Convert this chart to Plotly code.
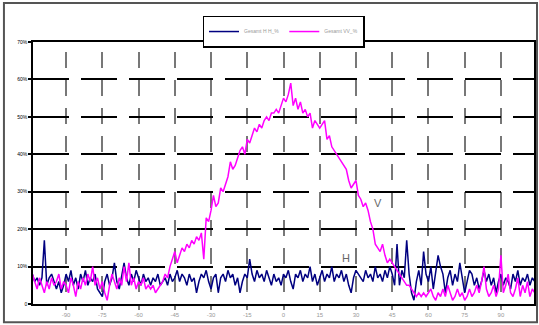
import plotly.graph_objects as go

angles = list(range(-104, 105))

gesamt_vv = [
    8, 6, 4, 7, 5, 3, 6, 4, 7, 5,
    6, 8, 4, 6, 5, 3, 7, 5, 2, 6,
    4, 7, 5, 8, 6, 10, 5, 7, 4, 6,
    3, 1, 5, 8, 6, 4, 7, 5, 10, 6,
    11, 5, 7, 4, 6, 5, 7, 4, 5, 4,
    5, 3, 4, 5, 6, 8, 7, 10, 12, 14,
    11, 13, 15, 14, 16, 15, 17, 16, 18, 17,
    19, 12, 23, 22, 25, 29, 26, 27, 31, 30,
    32, 34, 38, 36, 37, 39, 41, 42, 40, 44,
    43, 45, 47, 46, 48, 47, 49, 50, 49, 51,
    51, 52, 51, 53, 55, 54, 56, 59, 53, 55,
    52, 54, 51, 52, 50, 51, 47, 49, 48, 47,
    48, 49, 44, 45, 42, 41, 40, 39, 38, 37,
    36, 33, 31, 32, 33, 29, 28, 26, 27, 25,
    22, 20, 16, 15, 14, 16, 13, 11, 12, 11,
    10, 9, 8, 7, 6, 5, 5, 4, 3, 2,
    3, 2, 3, 2, 3, 4, 2, 1, 3, 2,
    4, 2, 5, 3, 1, 2, 4, 2, 3, 1,
    2, 4, 2, 3, 5, 3, 6, 10, 4, 2,
    3, 5, 2, 4, 13, 3, 5, 8, 3, 2,
    4, 7, 2, 5, 3, 6, 2, 4, 3,
]

gesamt_hh = [
    8, 6, 7, 5, 7, 17, 5, 7, 8, 6,
    4, 6, 3, 5, 8, 6, 9, 5, 7, 4,
    8, 6, 9, 5, 7, 6, 8, 4, 3, 2,
    6, 8, 5, 7, 11, 6, 4, 8, 11, 7,
    5, 8, 6, 9, 7, 5, 8, 6, 7, 5,
    7, 6, 8, 5, 6, 7, 5, 8, 6, 7,
    9, 6, 8, 7, 5, 8, 6, 7, 3, 6,
    8, 7, 9, 6, 4, 7, 8, 3, 7, 8,
    6, 9, 7, 8, 5, 7, 3, 6, 8, 7,
    12, 8, 6, 9, 7, 8, 6, 9, 7, 5,
    8, 6, 7, 5, 8, 7, 9, 6, 4, 8,
    7, 9, 6, 8, 7, 10, 6, 8, 5, 7,
    9, 6, 8, 7, 10, 6, 8, 7, 9, 6,
    8, 5, 3, 7, 9, 8, 7, 6, 9, 7,
    8, 6, 10, 7, 8, 6, 9, 7, 10, 8,
    5, 16, 5, 9, 7, 17, 8, 3, 1, 6,
    9, 5, 14, 8, 6, 10, 4, 9, 13, 10,
    8, 3, 7, 9, 5, 8, 6, 11, 7, 3,
    6, 9, 8, 5, 7, 4, 6, 9, 6, 8,
    5, 7, 3, 6, 8, 5, 7, 6, 4, 8,
    6, 9, 5, 7, 6, 8, 5, 7, 6,
]

x_ticks = [-90, -75, -60, -45, -30, -15, 0, 15, 30, 45, 60, 75, 90]
y_ticks = [0, 10, 20, 30, 40, 50, 60, 70]
y_tick_labels = ["0", "10%", "20%", "30%", "40%", "50%", "60%", "70%"]

fig = go.Figure()
fig.add_trace(go.Scatter(x=angles, y=gesamt_hh, mode="lines", name="Gesamt H H_%",
                         line=dict(color="#000080", width=1.5)))
fig.add_trace(go.Scatter(x=angles, y=gesamt_vv, mode="lines", name="Gesamt VV_%",
                         line=dict(color="#FF00FF", width=1.5)))

fig.update_layout(
    width=539, height=325,
    margin=dict(l=33, r=5, t=42, b=20.5, autoexpand=False),
    paper_bgcolor="white", plot_bgcolor="white",
    showlegend=True,
    legend=dict(orientation="h", x=0.5, xanchor="center", y=1.101, yanchor="top",
                font=dict(size=5, color="#999999", family="Arial"),
                bgcolor="white", bordercolor="black", borderwidth=1.5,
                itemwidth=30, tracegroupgap=0),
    xaxis=dict(range=[-103.7, 103.7], tickmode="array", tickvals=x_ticks,
               ticktext=[str(v) for v in x_ticks],
               showgrid=True, gridcolor="#777777", gridwidth=2,
               griddash="0px,10px,16px,2px",
               showline=True, linecolor="black", linewidth=1.5, mirror=True,
               ticks="outside", ticklen=4, tickcolor="#777777", tickwidth=2,
               tickfont=dict(size=6, color="#999999", family="Arial"),
               zeroline=False, automargin=False),
    yaxis=dict(range=[0, 70], tickmode="array", tickvals=y_ticks, ticktext=y_tick_labels,
               showgrid=True, gridcolor="black", gridwidth=1.5,
               griddash="36px,12px",
               showline=True, linecolor="black", linewidth=1.5, mirror=True,
               ticks="outside", ticklen=3, tickcolor="black", tickwidth=1.5,
               tickfont=dict(size=5, color="black", family="Arial Black, Arial"),
               zeroline=False, automargin=False),
    shapes=[dict(type="rect", xref="paper", yref="paper",
                 x0=-0.058, x1=1.006, y0=-0.070, y1=1.149,
                 line=dict(color="#555555", width=2), fillcolor="rgba(0,0,0,0)",
                 layer="below")],
    annotations=[
        dict(x=39.3, y=27, text="V", showarrow=False, font=dict(size=11, color="#666666", family="Arial")),
        dict(x=26, y=12.4, text="H", showarrow=False, font=dict(size=11, color="#666666", family="Arial")),
    ],
)

fig.write_html("out.html", config={"displayModeBar": False},
               post_script="document.body.style.margin='0px';")
